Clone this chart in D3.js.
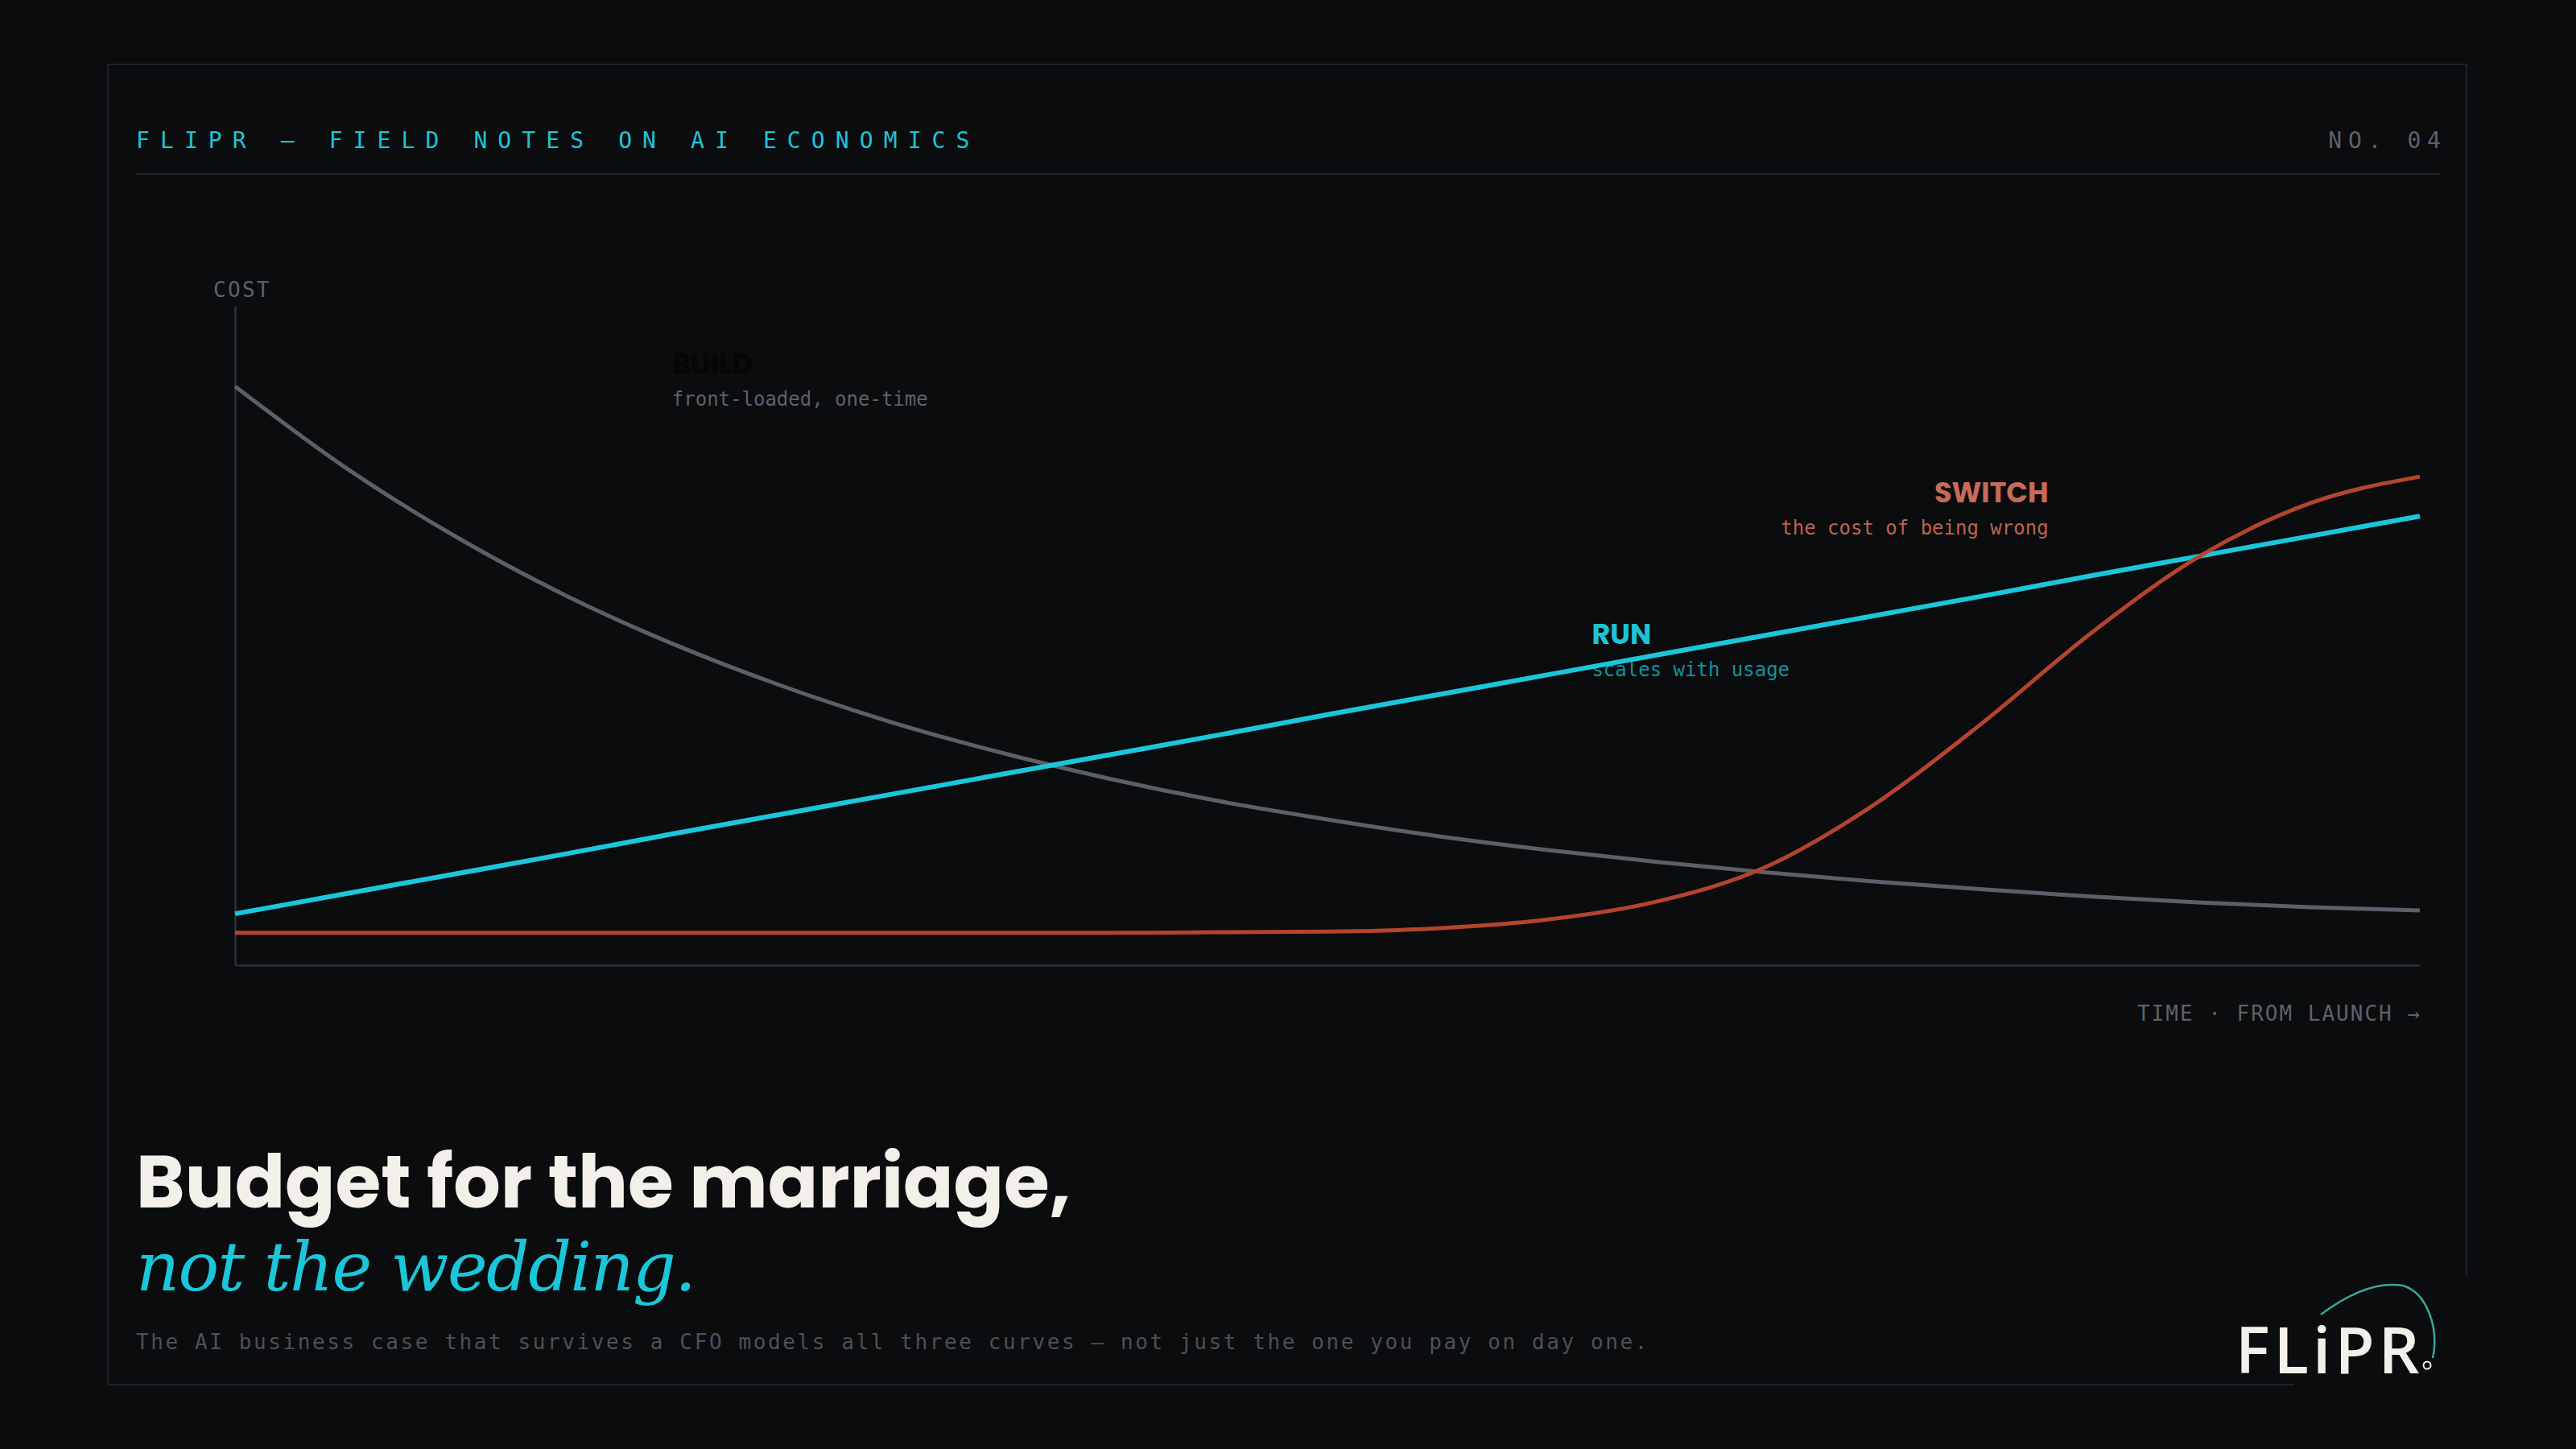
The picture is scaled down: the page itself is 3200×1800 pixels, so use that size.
<!DOCTYPE html>
<html>
<head>
<meta charset="utf-8">
<script src="https://cdn.jsdelivr.net/npm/d3@7"></script>
<style>
  body { margin: 0; background: #0a0c0e; }
  .mono { font-family: "DejaVu Sans Mono", monospace; }
</style>
</head>
<body>
<div id="chart"></div>
<script>
// time from launch (0-100) and cost (0-100)
let months = [0, 5, 10, 15, 20, 25, 30, 35, 40, 45, 50, 55, 60, 65, 70, 75, 80, 85, 90, 95, 100];
let buildCost = [87.8, 75.6, 65.2, 56.3, 48.8, 42.4, 36.9, 32.3, 28.3, 24.9, 22.1, 19.6, 17.5, 15.7, 14.1, 12.7, 11.5, 10.4, 9.5, 8.8, 8.3];
let runCost = [7.8, 10.8, 13.8, 16.8, 19.9, 22.9, 25.9, 28.9, 31.9, 34.9, 38.0, 41.0, 44.0, 47.0, 50.0, 53.0, 56.0, 59.1, 62.1, 65.1, 68.1];
let switchCost = [4.9, 4.9, 4.9, 4.9, 4.9, 4.9, 4.9, 4.9, 4.9, 5.0, 5.1, 5.6, 6.9, 9.6, 14.8, 24.3, 36.8, 50.5, 62.2, 70.1, 74.1];

let seriesNames = ["BUILD", "RUN", "SWITCH"];
let seriesNotes = ["front-loaded, one-time", "scales with usage", "the cost of being wrong"];

let headerText = "FLIPR — FIELD NOTES ON AI ECONOMICS";
let issueText = "NO. 04";
let yLabel = "COST";
let xLabel = "TIME · FROM LAUNCH →";
let titleLine1 = "Budget for the marriage,";
let titleLine2 = "not the wedding.";
let footnote = "The AI business case that survives a CFO models all three curves — not just the one you pay on day one.";

let dim = { width: 3200, height: 1800 };
let bg = "#0a0c0e";

let svg = d3.select("#chart")
            .append("svg")
            .attr("width", dim.width)
            .attr("height", dim.height)
            .style("display", "block");

svg.append("rect").attr("width", dim.width).attr("height", dim.height).attr("fill", bg);

// outer frame
svg.append("rect")
   .attr("x", 134).attr("y", 80)
   .attr("width", 2930).attr("height", 1640)
   .attr("fill", "none")
   .attr("stroke", "#1d2127")
   .attr("stroke-width", 2);

// header
svg.append("text").attr("class", "mono")
   .attr("x", 169).attr("y", 184)
   .attr("font-size", 28)
   .attr("letter-spacing", 13.1)
   .attr("fill", "#1fc3d6")
   .text(headerText);

svg.append("text").attr("class", "mono")
   .attr("x", 3032 + 7.7).attr("y", 184)
   .attr("text-anchor", "end")
   .attr("font-size", 28)
   .attr("letter-spacing", 7.7)
   .attr("fill", "#5b626b")
   .text(issueText);

svg.append("line")
   .attr("x1", 169).attr("x2", 3032)
   .attr("y1", 216).attr("y2", 216)
   .attr("stroke", "#1f242b")
   .attr("stroke-width", 2);

// scales
let x = d3.scaleLinear().domain([0, 100]).range([292, 3006]);
let y = d3.scaleLinear().domain([0, 100]).range([1199, 380]);

let axisX = svg.append("g")
               .attr("transform", `translate(0, ${y(0)})`)
               .call(d3.axisBottom(x).ticks(0).tickSizeOuter(0));
let axisY = svg.append("g")
               .attr("transform", `translate(${x(0)}, 0)`)
               .call(d3.axisLeft(y).ticks(0).tickSizeOuter(0));
svg.selectAll(".domain").attr("stroke", "#2a2f36").attr("stroke-width", 2.5);

svg.append("text").attr("class", "mono")
   .attr("x", 265).attr("y", 369)
   .attr("font-size", 26)
   .attr("letter-spacing", 2.3)
   .attr("fill", "#5b626b")
   .text(yLabel);

svg.append("text").attr("class", "mono")
   .attr("x", 3006 + 2).attr("y", 1268)
   .attr("text-anchor", "end")
   .attr("font-size", 26)
   .attr("letter-spacing", 2)
   .attr("fill", "#5b626b")
   .text(xLabel);

// curve labels
let labelFont = "Poppins, Inter, sans-serif";

function curveLabel(name, note, t, c, anchor, nameColor, noteColor) {
    svg.append("text")
       .attr("x", x(t)).attr("y", y(c))
       .attr("text-anchor", anchor)
       .attr("font-family", labelFont)
       .attr("font-weight", 700)
       .attr("font-size", 35)
       .attr("fill", nameColor)
       .text(name);
    svg.append("text").attr("class", "mono")
       .attr("x", x(t)).attr("y", y(c) + 40)
       .attr("text-anchor", anchor)
       .attr("font-size", 24)
       .attr("fill", noteColor)
       .text(note);
}

curveLabel(seriesNames[0], seriesNotes[0], 20.0, 89.7, "start", "#050607", "#5b626b");
curveLabel(seriesNames[1], seriesNotes[1], 62.1, 48.7, "start", "#1fc3d6", "#17909d");
curveLabel(seriesNames[2], seriesNotes[2], 83.0, 70.2, "end", "#c96a58", "#c0624f");

// curves
let line = d3.line()
             .x(d => x(d.t))
             .y(d => y(d.c))
             .curve(d3.curveMonotoneX);

function series(vals) {
    return months.map((t, i) => ({ t: t, c: vals[i] }));
}

let curves = [
    { vals: buildCost, color: "#5a6068", w: 5 },
    { vals: runCost, color: "#1cc6da", w: 6 },
    { vals: switchCost, color: "#b4442f", w: 5 }
];

svg.append("g")
   .selectAll("path")
   .data(curves)
   .join("path")
   .attr("d", d => line(series(d.vals)))
   .attr("fill", "none")
   .attr("stroke", d => d.color)
   .attr("stroke-width", d => d.w)
   .attr("stroke-linecap", "butt");

// title block
svg.append("text")
   .attr("x", 169).attr("y", 1500)
   .attr("font-family", labelFont)
   .attr("font-weight", 700)
   .attr("font-size", 92)
   .attr("letter-spacing", 0)
   .attr("fill", "#f3f0e9")
   .text(titleLine1);

svg.append("text")
   .attr("x", 169).attr("y", 1603)
   .attr("font-family", "'DejaVu Serif', serif")
   .attr("font-style", "italic")
   .attr("font-size", 84)
   .attr("letter-spacing", -1.6)
   .attr("fill", "#1cc6da")
   .text(titleLine2);

svg.append("text").attr("class", "mono")
   .attr("x", 169).attr("y", 1676)
   .attr("font-size", 26)
   .attr("letter-spacing", 2.6)
   .attr("fill", "#4a5159")
   .text(footnote);

// logo (covers the frame corner)
let logo = svg.append("g");
logo.append("rect")
    .attr("x", 2850).attr("y", 1585)
    .attr("width", 240).attr("height", 160)
    .attr("fill", bg);
logo.append("path")
    .attr("d", "M2883,1633 C2920,1605 2955,1592 2985,1597 C3015,1606 3030,1650 3022,1687")
    .attr("fill", "none")
    .attr("stroke", "#3aa597")
    .attr("stroke-width", 2.5);
logo.append("circle")
    .attr("cx", 3015).attr("cy", 1696).attr("r", 4.5)
    .attr("fill", "none")
    .attr("stroke", "#f3f0e9")
    .attr("stroke-width", 2);
logo.append("text")
    .attr("x", 2777).attr("y", 1706)
    .attr("font-family", "'Open Sans', sans-serif")
    .attr("font-weight", 600)
    .attr("font-size", 80)
    .attr("letter-spacing", 5)
    .attr("fill", "#f3f0e9")
    .text("FLiPR");
</script>
</body>
</html>
